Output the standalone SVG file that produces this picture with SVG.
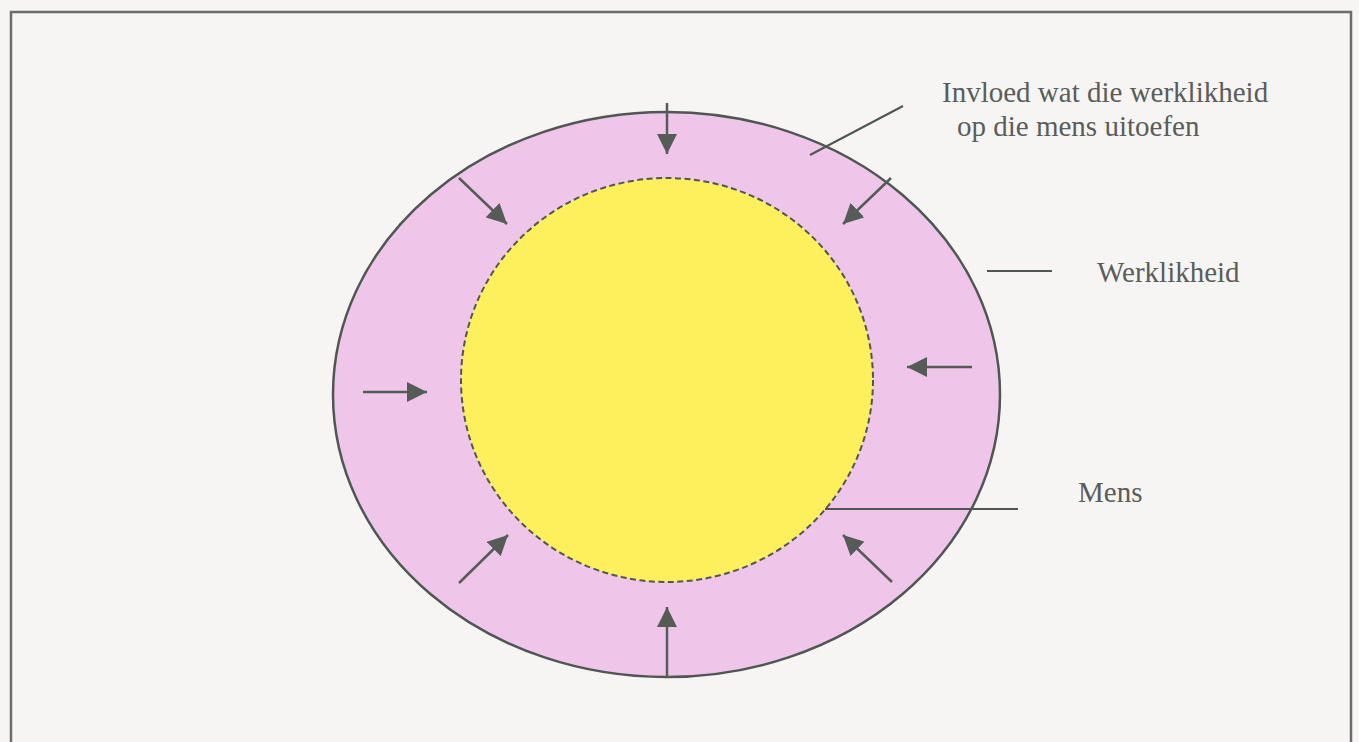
<svg xmlns="http://www.w3.org/2000/svg" width="1359" height="742" viewBox="0 0 1359 742">
<defs>
<style>
.bg{fill:#f7f5f3}
.frame{fill:none;stroke:#6a6d6a;stroke-width:2.5}
.outer{fill:#efc6ea;stroke:#4f5753;stroke-width:2.5}
.inner{fill:#fdf05c;stroke:#4f5753;stroke-width:2;stroke-dasharray:6 3.5}
.arrow{stroke:#555c58;stroke-width:2.5;fill:none;marker-end:url(#ah)}
.lead{stroke:#4f5753;stroke-width:2;fill:none}
.lbl{font-family:"Liberation Serif","Times New Roman",serif;font-size:29px;fill:#5a5d5a}
</style>
<marker id="ah" viewBox="0 0 20 20" refX="20" refY="10" markerWidth="20" markerHeight="20" markerUnits="userSpaceOnUse" orient="auto">
<path d="M0,0 L20,10 L0,20 Z" fill="#555c58"/>
</marker>
</defs>
<rect class="bg" x="0" y="0" width="1359" height="742"/>
<rect class="frame" x="11" y="12" width="1340" height="745"/>
<g id="werklikheid">
<ellipse class="outer" cx="666.5" cy="394.5" rx="333.5" ry="282.5"/>
</g>
<g id="mens">
<ellipse class="inner" cx="667" cy="380" rx="206" ry="202"/>
</g>
<g id="connectors">
<line class="arrow" x1="667" y1="103" x2="667" y2="154"/>
<line class="arrow" x1="459" y1="178" x2="507" y2="224"/>
<line class="arrow" x1="891" y1="178" x2="843" y2="224"/>
<line class="arrow" x1="363" y1="392" x2="427" y2="392"/>
<line class="arrow" x1="972" y1="367" x2="907" y2="367"/>
<line class="arrow" x1="459" y1="583" x2="508" y2="535"/>
<line class="arrow" x1="667" y1="677" x2="667" y2="607"/>
<line class="arrow" x1="892" y1="582" x2="843" y2="535"/>
<line class="lead" x1="810" y1="155" x2="903" y2="106"/>
<line class="lead" x1="987" y1="271" x2="1052" y2="271"/>
<line class="lead" x1="825" y1="509" x2="1018" y2="509"/>
</g>
<g id="label-invloed">
<text class="lbl" x="942" y="102">Invloed wat die werklikheid</text>
<text class="lbl" x="957" y="136">op die mens uitoefen</text>
</g>
<g id="label-werklikheid">
<text class="lbl" x="1097" y="282">Werklikheid</text>
</g>
<g id="label-mens">
<text class="lbl" x="1078" y="502">Mens</text>
</g>
</svg>
